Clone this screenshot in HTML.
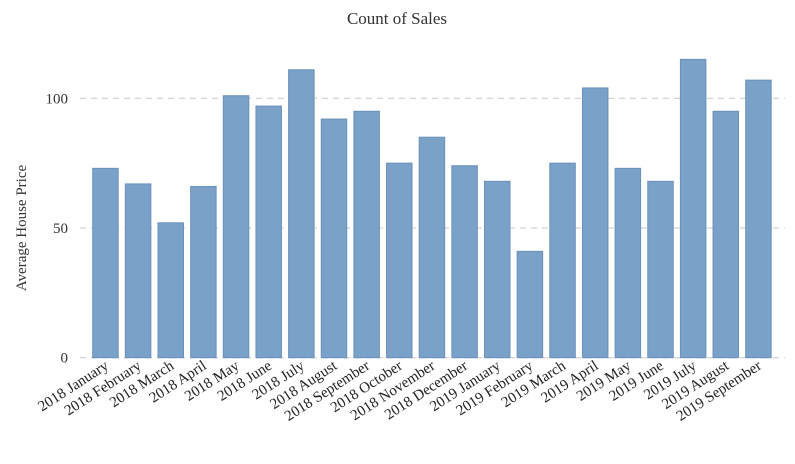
<!DOCTYPE html>
<html><head><meta charset="utf-8"><style>
body{margin:0;background:#fff;}
svg{display:block;font-family:"Liberation Serif",serif;}
</style></head><body>
<svg id="chart" width="795" height="464">
<text x="397" y="24" text-anchor="middle" font-size="17" fill="#333">Count of Sales</text>
<text transform="translate(26,228) rotate(-90)" text-anchor="middle" font-size="15" fill="#333">Average House Price</text>
<g id="grid"></g><g id="bars"></g><g id="xlabels"></g>
</svg>
<script>
const categories=["2018 January","2018 February","2018 March","2018 April","2018 May","2018 June","2018 July","2018 August","2018 September","2018 October","2018 November","2018 December","2019 January","2019 February","2019 March","2019 April","2019 May","2019 June","2019 July","2019 August","2019 September"];
const values=[73,67,52,66,101,97,111,92,95,75,85,74,68,41,75,104,73,68,115,95,107];
const yTicks=[0,50,100];
const NS="http://www.w3.org/2000/svg";
const y=v=>357.7-v*2.594;
const x0=92.7,step=32.65,bw=25.5;
const xb=i=>x0+i*step;
const grid=document.getElementById('grid');
yTicks.forEach(t=>{
 const l=document.createElementNS(NS,'line');
 l.setAttribute('x1',80);l.setAttribute('x2',785);l.setAttribute('y1',y(t));l.setAttribute('y2',y(t));
 l.setAttribute('stroke','#c8c8c8');l.setAttribute('stroke-dasharray','6,5');
 
 
 grid.appendChild(l);
 const tx=document.createElementNS(NS,'text');
 tx.setAttribute('x',68);tx.setAttribute('y',y(t)+5);tx.setAttribute('text-anchor','end');
 tx.setAttribute('font-size','15');tx.setAttribute('fill','#333');tx.textContent=t;
 
 
 grid.appendChild(tx);
});
const bars=document.getElementById('bars'),xl=document.getElementById('xlabels');
values.forEach((v,i)=>{
 const r=document.createElementNS(NS,'rect');
 r.setAttribute('x',xb(i));r.setAttribute('y',y(v));r.setAttribute('width',bw);r.setAttribute('height',y(0)-y(v));
 r.setAttribute('fill','#7aa1c7');r.setAttribute('stroke','#6b91bb');r.setAttribute('stroke-width','1');
 
 
 bars.appendChild(r);
 const t=document.createElementNS(NS,'text');
 const cx=xb(i)+bw/2+4,cy=368;
 t.setAttribute('transform','translate('+cx+','+cy+') rotate(-33)');
 t.setAttribute('text-anchor','end');t.setAttribute('font-size','15');t.setAttribute('fill','#222');
 t.textContent=categories[i];
 
 
 xl.appendChild(t);
});
</script>
</body></html>
